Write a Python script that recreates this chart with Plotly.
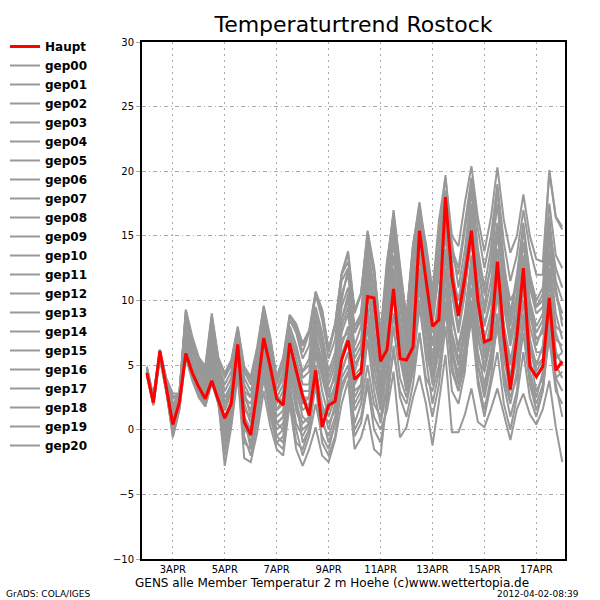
import pandas as pd
import plotly.graph_objects as go

# ---- time axis: GENS run 2012-04-02 00Z, 6-hourly, 16 days ----
times = pd.date_range("2012-04-02 00:00", periods=65, freq="6h")
tick_dates = ["2012-04-03", "2012-04-05", "2012-04-07", "2012-04-09",
              "2012-04-11", "2012-04-13", "2012-04-15", "2012-04-17"]
tick_labels = ["3APR", "5APR", "7APR", "9APR", "11APR", "13APR", "15APR", "17APR"]
y_ticks = [-10, -5, 0, 5, 10, 15, 20, 25, 30]

# ---- series (deg C) ----
haupt = [4.4, 2.1, 6.1, 3.4, 0.4, 2.1, 5.9, 4.4, 3.3, 2.4, 3.8, 2.3, 0.9, 2.0, 6.6, 0.6,
         -0.4, 3.1, 7.1, 4.9, 2.4, 1.9, 6.7, 4.6, 2.6, 1.1, 4.6, 0.2, 1.9, 2.2, 5.4, 6.9,
         3.9, 4.4, 10.3, 10.2, 5.3, 6.2, 10.9, 5.5, 5.4, 6.4, 15.4, 11.6, 8.0, 8.5, 18.0, 11.8,
         8.8, 11.8, 15.4, 10.0, 6.8, 7.0, 13.0, 7.2, 3.1, 7.2, 12.5, 4.9, 4.1, 4.9, 10.2, 4.6, 5.3]

gep00 = [4.5, 2.2, 6.0, 3.5, 0.6, 2.0, 6.2, 4.6, 3.5, 2.6, 4.2, 2.6, 1.0, 2.2, 6.4, 1.0,
         0.0, 3.3, 7.4, 5.0, 2.6, 2.1, 6.5, 4.8, 2.8, 1.5, 5.0, 1.0, 2.2, 2.5, 5.8, 7.2,
         4.2, 4.8, 10.0, 9.6, 5.0, 6.5, 11.4, 6.0, 5.0, 7.0, 14.6, 11.0, 7.5, 9.0, 17.2, 11.0,
         8.0, 11.0, 14.6, 9.5, 6.4, 7.5, 12.0, 7.5, 4.0, 7.8, 11.5, 6.0, 5.0, 5.5, 9.5, 5.5, 6.0]
gep01 = [4.2, 1.9, 5.6, 3.0, -0.5, 1.6, 5.8, 4.0, 2.6, 1.8, 3.8, 2.2, -2.8, 0.2, 4.2, -2.2,
         -2.5, -0.2, 3.0, 0.3, -1.5, -2.0, 2.0, -1.5, -2.8, -1.5, 0.2, -2.0, -2.5, -0.8, 2.0, 3.8,
         -1.5, -0.6, 1.2, -1.5, -2.0, 2.5, 6.0, 3.0, 2.0, 4.5, 7.5, 4.0, 3.0, 5.0, 9.0, 6.0,
         3.5, 6.0, 9.5, 5.0, 2.5, 5.0, 8.0, 4.0, 2.0, 4.5, 9.0, 5.5, 3.0, 4.0, 7.0, 3.0, 2.0]
gep02 = [4.8, 2.5, 6.1, 3.8, 2.6, 2.7, 9.2, 7.0, 5.5, 4.8, 8.8, 5.5, 4.2, 5.2, 7.8, 4.6,
         4.0, 6.2, 9.5, 7.0, 4.0, 5.5, 8.8, 8.0, 6.5, 7.5, 10.5, 9.0, 6.0, 8.0, 12.0, 13.6,
         9.0, 10.5, 15.2, 12.4, 7.2, 12.8, 16.8, 12.4, 8.6, 14.2, 17.6, 14.2, 10.6, 16.2, 19.5, 15.0,
         14.2, 17.6, 20.4, 16.4, 13.8, 16.4, 20.3, 16.2, 13.7, 15.0, 18.2, 15.0, 13.2, 13.0, 19.9, 16.4, 15.5]
gep03 = [4.6, 2.3, 6.0, 3.6, 1.5, 2.4, 8.0, 6.2, 4.8, 4.0, 7.5, 4.5, 2.5, 3.5, 7.0, 3.0,
         2.5, 4.5, 8.0, 5.5, 3.0, 4.0, 7.5, 6.0, 4.5, 5.0, 9.0, 7.0, 4.0, 5.5, 9.5, 11.0,
         6.5, 8.0, 13.0, 9.0, 5.5, 9.5, 14.5, 10.5, 6.5, 10.5, 15.0, 12.0, 8.0, 12.5, 15.5, 12.0,
         10.0, 13.0, 17.5, 13.5, 10.5, 12.5, 16.0, 12.5, 10.0, 11.0, 14.5, 11.0, 9.0, 9.5, 15.5, 12.5, 11.0]
gep04 = [4.4, 2.1, 5.9, 3.3, 0.2, 1.8, 6.8, 5.0, 3.8, 3.0, 6.5, 3.5, -0.5, 1.5, 5.5, 0.5,
         -1.0, 2.0, 6.5, 3.0, 0.5, 0.0, 5.0, 3.0, 1.0, 0.5, 6.0, 3.0, 1.0, 2.5, 6.5, 8.0,
         3.0, 3.5, 9.0, 5.0, 2.0, 5.0, 12.0, 7.0, 3.5, 6.5, 12.5, 9.5, 5.5, 8.0, 13.5, 8.5,
         6.5, 9.0, 13.0, 7.5, 4.5, 7.0, 11.5, 6.5, 3.5, 6.0, 10.0, 4.5, 2.5, 4.5, 8.5, 4.0, 4.5]
gep05 = [4.7, 2.4, 6.2, 3.9, 2.0, 2.8, 9.0, 7.0, 5.5, 4.5, 8.5, 5.0, 3.5, 4.5, 7.5, 4.5,
         3.5, 5.5, 9.0, 6.5, 3.5, 5.0, 8.5, 7.5, 5.5, 6.5, 10.5, 8.5, 5.5, 7.0, 11.5, 12.5,
         7.5, 9.0, 14.0, 11.0, 6.5, 11.0, 16.0, 12.0, 8.0, 13.0, 17.0, 13.5, 10.0, 14.5, 18.5, 13.5,
         12.0, 15.5, 19.0, 14.0, 11.0, 14.0, 18.5, 13.0, 9.0, 12.0, 16.0, 12.0, 10.0, 11.0, 17.5, 13.5, 12.5]
gep06 = [4.5, 2.2, 5.7, 3.1, -0.6, 1.5, 5.6, 3.8, 2.5, 1.8, 3.6, 2.0, -1.5, 0.5, 4.5, -1.0,
         -1.5, 1.0, 4.5, 1.5, -0.5, -1.0, 3.0, 0.0, -2.0, -0.5, 2.0, -0.5, -1.5, 0.5, 3.0, 4.5,
         0.5, 2.0, 5.0, 2.0, 1.0, 3.5, 8.0, 4.0, 2.5, 5.0, 9.5, 6.0, 4.0, 6.5, 11.0, 7.0,
         5.0, 8.0, 12.5, 8.5, 5.5, 8.5, 14.0, 9.5, 6.5, 9.0, 13.0, 9.0, 6.5, 8.0, 13.5, 9.0, 7.0]
gep07 = [4.3, 2.0, 5.8, 3.2, 1.0, 2.2, 7.5, 5.5, 4.0, 3.0, 5.5, 3.0, 0.5, 2.0, 5.5, 1.5,
         1.0, 2.5, 5.0, 2.0, 0.0, 0.5, 4.0, 2.0, 0.5, 1.0, 3.5, 1.5, 0.5, 1.5, 4.0, 5.0,
         0.0, 1.0, 4.0, 1.0, 0.0, 1.5, 4.5, -0.6, 0.2, 2.5, 4.2, 2.0, -1.2, 2.2, 5.8, -0.2,
         -0.2, 1.2, 3.2, 0.6, 0.2, 1.6, 3.2, 1.2, -0.8, 1.6, 2.8, 1.2, 0.4, 1.6, 3.8, 0.2, -2.5]
gep08 = [4.6, 2.4, 5.8, 3.4, 1.2, 2.6, 7.8, 6.0, 4.5, 3.5, 8.0, 4.5, 1.5, 3.0, 6.0, 2.5,
         2.0, 4.0, 8.5, 4.0, 1.5, 2.5, 7.0, 4.5, 3.0, 3.0, 7.5, 5.0, 2.5, 4.5, 8.5, 10.0,
         5.5, 6.5, 12.0, 8.0, 4.0, 8.0, 13.5, 9.5, 6.0, 9.0, 12.0, 8.0, 5.0, 7.5, 12.5, 7.5,
         5.5, 7.0, 11.0, 6.0, 3.5, 6.0, 10.5, 5.5, 3.0, 5.5, 12.0, 7.0, 5.0, 6.5, 11.5, 6.0, 5.0]
gep09 = [4.3, 2.0, 5.6, 3.0, 0.0, 1.7, 6.5, 4.5, 3.0, 2.2, 4.8, 2.8, -2.0, 1.0, 5.0, -0.5,
         -2.0, 0.5, 4.0, 1.0, -1.0, -1.5, 2.5, -1.0, -1.5, 0.0, 4.0, 0.5, -0.5, 1.0, 4.5, 6.0,
         1.5, 2.5, 7.0, 3.0, 0.5, 3.0, 9.0, 5.5, 3.0, 6.0, 11.0, 7.0, 4.5, 7.0, 12.0, 6.5,
         4.0, 6.5, 10.0, 5.0, 3.0, 5.5, 9.0, 4.5, 2.5, 4.0, 7.5, 3.5, 1.5, 3.0, 7.5, 3.5, 1.0]
gep10 = [4.8, 2.5, 6.1, 3.7, 1.8, 2.5, 8.5, 6.5, 5.0, 4.2, 8.0, 5.2, 3.0, 4.0, 7.5, 4.0,
         3.0, 5.0, 8.5, 6.0, 2.5, 3.5, 8.0, 6.5, 4.0, 4.5, 8.5, 6.5, 3.5, 5.0, 10.0, 12.5,
         8.0, 9.0, 14.5, 12.0, 7.0, 12.0, 16.5, 11.5, 7.5, 12.0, 16.0, 13.0, 9.0, 13.5, 17.5, 14.5,
         11.0, 14.0, 18.5, 13.0, 9.0, 11.5, 15.5, 11.0, 7.0, 10.0, 14.5, 10.0, 8.0, 9.0, 14.0, 10.5, 9.0]
gep11 = [4.4, 2.2, 5.9, 3.2, 0.8, 2.0, 7.0, 5.0, 3.5, 2.8, 6.0, 3.5, 0.5, 2.5, 6.5, 2.0,
         0.5, 3.0, 7.0, 4.0, 1.0, 1.5, 5.5, 3.5, 1.5, 2.0, 6.5, 4.0, 2.0, 3.5, 7.5, 9.0,
         4.5, 6.0, 11.5, 7.5, 3.5, 7.0, 12.5, 8.5, 5.0, 8.5, 13.5, 10.0, 6.5, 10.0, 16.0, 10.5,
         7.5, 10.5, 16.5, 11.0, 8.0, 10.0, 14.0, 10.0, 7.5, 9.0, 13.0, 9.0, 7.0, 7.5, 12.0, 8.0, 7.5]
gep12 = [4.5, 2.3, 6.0, 3.5, 0.3, 1.9, 6.5, 4.8, 3.2, 2.5, 5.0, 3.0, 0.0, 2.0, 6.8, 2.5,
         1.5, 3.5, 8.0, 4.5, 2.0, 3.0, 7.5, 5.5, 3.5, 3.5, 8.0, 6.0, 3.0, 4.0, 8.0, 9.5,
         5.0, 6.0, 11.0, 6.5, 2.5, 6.0, 10.5, 6.0, 3.0, 5.5, 10.0, 5.5, 2.0, 4.5, 9.5, 4.5,
         3.0, 5.0, 9.0, 4.0, 1.5, 4.0, 8.5, 3.5, 1.0, 3.0, 8.5, 4.0, 2.0, 3.5, 9.0, 5.0, 4.0]
gep13 = [4.7, 2.4, 6.1, 3.8, 2.4, 2.7, 8.8, 6.8, 5.2, 4.4, 8.5, 5.5, 4.0, 5.0, 7.8, 4.8,
         3.8, 6.0, 9.2, 7.0, 3.8, 5.0, 8.5, 7.8, 6.0, 7.5, 10.6, 9.2, 6.2, 8.2, 12.0, 13.0,
         9.2, 10.5, 15.0, 12.5, 7.0, 12.5, 17.0, 12.5, 8.5, 14.0, 17.5, 13.0, 9.5, 13.0, 16.5, 12.0,
         10.0, 12.0, 15.0, 10.0, 7.0, 9.0, 13.0, 8.0, 5.0, 6.5, 10.0, 6.5, 4.0, 5.0, 10.5, 7.0, 6.5]
gep14 = [4.2, 1.9, 5.5, 2.9, -0.3, 1.6, 6.0, 4.2, 2.8, 2.0, 4.4, 2.5, -1.0, 1.0, 5.2, 0.0,
         -0.5, 1.5, 5.5, 2.5, -0.5, 0.0, 4.5, 1.5, 0.0, 0.5, 5.0, 1.0, -1.0, 0.5, 4.5, 6.0,
         2.0, 3.0, 8.0, 4.0, 1.5, 4.5, 11.0, 6.5, 4.0, 7.5, 13.5, 10.5, 6.5, 10.5, 15.0, 10.5,
         9.0, 12.0, 17.0, 12.5, 9.5, 13.0, 17.5, 12.0, 8.5, 11.5, 15.5, 11.5, 9.5, 10.0, 16.0, 11.0, 8.0]
gep15 = [4.6, 2.2, 6.0, 3.6, 1.0, 2.2, 7.2, 5.4, 4.2, 3.2, 7.0, 4.0, 2.0, 3.0, 6.5, 2.0,
         0.5, 2.5, 6.0, 2.5, 0.5, 1.0, 6.0, 4.0, 2.0, 2.5, 7.0, 4.5, 2.5, 3.0, 7.0, 7.5,
         3.5, 4.5, 9.5, 6.0, 3.0, 6.0, 11.5, 7.5, 4.5, 7.5, 12.5, 9.0, 5.5, 9.0, 14.0, 9.0,
         6.0, 8.5, 13.5, 8.0, 6.0, 8.0, 13.0, 8.0, 5.5, 7.0, 12.5, 8.0, 6.0, 6.0, 12.5, 7.5, 6.0]
gep16 = [4.9, 2.6, 6.2, 4.0, 2.8, 2.8, 9.3, 7.2, 5.6, 4.9, 9.0, 5.6, 4.4, 5.4, 8.0, 4.9,
         4.1, 6.4, 9.6, 7.2, 4.1, 5.6, 8.9, 8.2, 6.7, 7.7, 10.7, 9.3, 6.2, 8.2, 12.1, 13.8,
         9.3, 10.6, 15.4, 12.6, 7.5, 13.1, 16.5, 12.0, 8.8, 14.4, 17.0, 14.4, 10.8, 15.0, 19.7, 14.0,
         12.5, 16.0, 19.5, 15.5, 12.5, 15.0, 19.0, 14.5, 11.5, 13.5, 17.0, 14.0, 12.0, 12.0, 20.1, 16.5, 15.7]
gep17 = [4.4, 2.1, 5.8, 3.3, 0.5, 2.0, 7.0, 5.2, 4.0, 3.3, 7.0, 4.2, 1.5, 3.0, 7.2, 3.0,
         1.0, 3.8, 7.8, 5.0, 1.5, 2.0, 6.5, 5.0, 2.5, 2.5, 7.0, 5.5, 1.5, 3.0, 8.5, 10.5,
         6.0, 7.0, 12.5, 10.0, 5.0, 9.0, 15.0, 10.0, 6.0, 10.0, 14.0, 9.0, 4.0, 7.0, 11.0, 5.0,
         3.0, 5.5, 8.5, 3.5, 1.0, 3.5, 6.0, 2.0, 0.0, 2.5, 6.0, 2.5, 1.0, 3.0, 8.0, 4.0, 3.0]
gep18 = [4.3, 2.0, 5.7, 3.0, -0.2, 1.8, 6.3, 4.4, 3.0, 2.4, 5.5, 3.0, -0.5, 1.5, 6.0, 1.0,
         0.0, 2.5, 6.5, 3.5, 0.5, 1.0, 5.0, 2.5, -1.0, 0.0, 3.5, -1.0, -2.0, -0.5, 3.5, 4.5,
         -0.5, 0.5, 3.5, 0.0, -1.0, 2.0, 6.5, 2.5, 1.0, 3.5, 7.5, 3.5, 1.0, 3.5, 8.0, 3.0,
         2.0, 4.5, 10.0, 5.5, 4.5, 7.0, 11.0, 6.0, 4.0, 6.0, 11.0, 7.0, 4.5, 5.5, 10.5, 6.0, 5.0]
gep19 = [4.6, 2.3, 6.1, 3.7, 1.3, 2.4, 8.2, 6.0, 4.6, 3.8, 7.0, 4.8, 2.0, 3.5, 7.0, 3.5,
         2.5, 5.0, 8.8, 6.5, 3.0, 4.5, 8.0, 6.5, 4.5, 5.5, 9.5, 7.5, 4.5, 6.0, 10.5, 12.0,
         7.5, 8.5, 13.5, 10.0, 6.0, 10.5, 15.5, 11.0, 7.0, 11.5, 16.5, 12.5, 8.5, 12.0, 17.5, 13.0,
         9.0, 12.5, 16.0, 11.5, 8.0, 10.5, 15.0, 11.5, 8.0, 10.5, 15.5, 12.0, 9.5, 10.5, 16.5, 11.5, 10.0]
gep20 = [4.5, 2.1, 5.8, 3.3, 0.8, 2.1, 7.2, 5.3, 3.8, 2.9, 6.0, 3.3, 0.0, 2.0, 6.0, 1.0,
         -1.5, 1.5, 5.5, 2.0, -1.0, -0.5, 3.5, 0.5, -0.5, 0.5, 4.5, 2.0, 0.0, 2.0, 5.5, 7.0,
         2.5, 3.5, 9.0, 5.5, 3.5, 6.5, 12.0, 8.0, 5.5, 8.0, 11.5, 7.0, 3.5, 6.0, 10.0, 5.5,
         4.5, 7.5, 12.0, 7.0, 5.0, 7.5, 12.5, 7.5, 5.0, 8.5, 13.5, 9.5, 7.5, 8.5, 15.0, 10.5, 8.5]

members = {
    "gep00": gep00, "gep01": gep01, "gep02": gep02, "gep03": gep03, "gep04": gep04,
    "gep05": gep05, "gep06": gep06, "gep07": gep07, "gep08": gep08, "gep09": gep09,
    "gep10": gep10, "gep11": gep11, "gep12": gep12, "gep13": gep13, "gep14": gep14,
    "gep15": gep15, "gep16": gep16, "gep17": gep17, "gep18": gep18, "gep19": gep19,
    "gep20": gep20,
}

GRAY = "rgb(152,152,152)"
RED = "rgb(255,0,0)"
FONT = "DejaVu Sans"

fig = go.Figure()
for i, (name, vals) in enumerate(members.items()):
    fig.add_trace(go.Scatter(x=times, y=vals, mode="lines", name=name,
                             line=dict(color=GRAY, width=2), legendrank=10 + i))
fig.add_trace(go.Scatter(x=times, y=haupt, mode="lines", name="Haupt",
                         line=dict(color=RED, width=3), legendrank=1))

# plot area in pixels: left 142, right 565, top 42, bottom 559
L, R, T, B = 142, 565, 42, 559
W, H = R - L, B - T
def px(x):
    return (x - L) / W
def py(y):
    return (B - y) / H

fig.update_layout(
    width=600, height=600,
    margin=dict(l=L, r=600 - R, t=T, b=600 - B, autoexpand=False),
    paper_bgcolor="white", plot_bgcolor="white",
    title=dict(text="Temperaturtrend Rostock", x=0.5, xref="paper", xanchor="center",
               y=1 - 24 / 600, yref="container", yanchor="middle",
               font=dict(family=FONT, size=22, color="black")),
    showlegend=True,
    legend=dict(x=px(5), y=py(32), xref="paper", yref="paper",
                xanchor="left", yanchor="top", maxheight=520,
                font=dict(family=FONT, size=12, color="black", weight="bold"),
                bgcolor="rgba(0,0,0,0)", borderwidth=0, tracegroupgap=0,
                itemwidth=30),
    xaxis=dict(type="date",
               range=["2012-04-01 19:30", "2012-04-18 02:30"],
               tickvals=tick_dates, ticktext=tick_labels,
               tickfont=dict(family=FONT, size=10, color="black"),
               showgrid=True, gridcolor="rgb(170,170,170)", gridwidth=1,
               griddash="2px,4px",
               showline=True, linecolor="black", linewidth=2, mirror=True,
               ticks="", zeroline=False),
    yaxis=dict(range=[-10, 30], tickvals=y_ticks,
               tickfont=dict(family=FONT, size=10, color="black"),
               showgrid=True, gridcolor="rgb(170,170,170)", gridwidth=1,
               griddash="4px,3px,1px,3px",
               showline=True, linecolor="black", linewidth=2, mirror=True,
               ticks="outside", ticklen=4, tickcolor="rgb(170,170,170)",
               zeroline=False),
    annotations=[
        dict(text="GENS alle Member Temperatur 2 m Hoehe (c)www.wettertopia.de",
             xref="paper", yref="paper", x=px(332), y=py(583), showarrow=False,
             xanchor="center", yanchor="middle",
             font=dict(family=FONT, size=12, color="black")),
        dict(text="GrADS: COLA/IGES", xref="paper", yref="paper",
             x=px(4), y=py(594), showarrow=False, xanchor="left", yanchor="middle",
             font=dict(family=FONT, size=9, color="black")),
        dict(text="2012-04-02-08:39", xref="paper", yref="paper",
             x=px(581), y=py(594), showarrow=False, xanchor="right", yanchor="middle",
             font=dict(family=FONT, size=9, color="black")),
    ],
)

fig.write_html("out.html", config={"displayModeBar": False},
               post_script="document.body.style.margin='0px';")
